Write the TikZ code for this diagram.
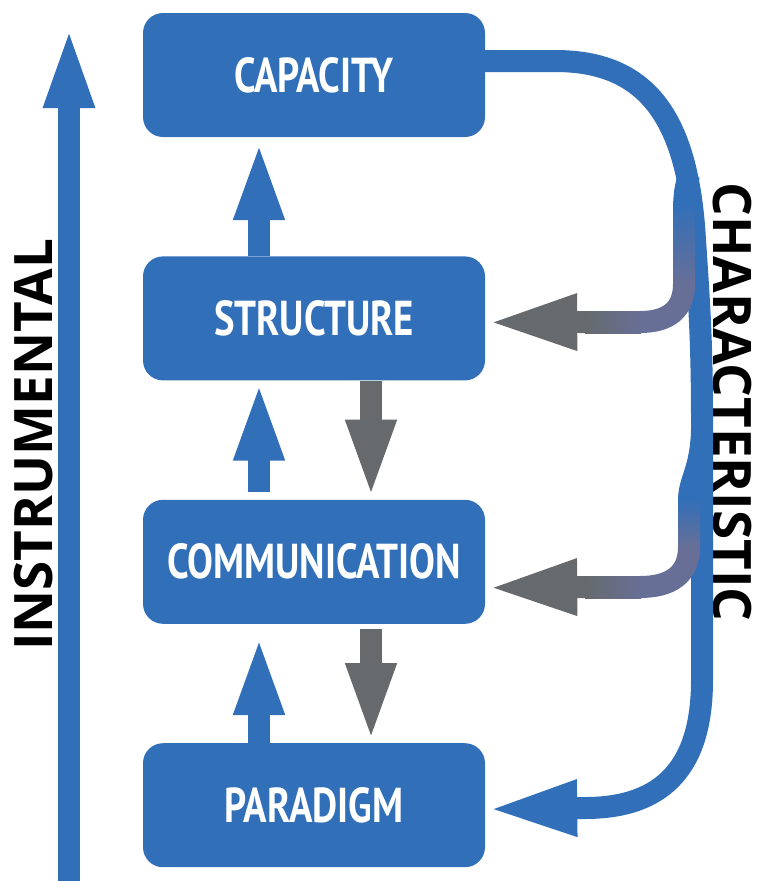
\documentclass[tikz,border=0pt]{standalone}
\usepackage{fontspec}
\newfontfamily\boxfont{PT Sans}[FakeStretch=0.79]
\newfontfamily\sidefont{Open Sans}
\usetikzlibrary{arrows.meta,positioning}
\definecolor{boxColor}{RGB}{50,111,185}
\definecolor{backColor}{RGB}{102,106,109}
\definecolor{mixColor}{RGB}{104,111,150}
\tikzset{stage/.style={fill=boxColor, draw=none, text=white, align=center, minimum width=342pt, minimum height=124pt, rounded corners=20pt, font=\boxfont\bfseries\fontsize{49}{51}\selectfont}}
\tikzset{sideLabel/.style={text=black, inner sep=0pt, font=\sidefont\bfseries\fontsize{53}{55}\selectfont}}
\tikzstyle{arrow} = [-{Triangle[length=80pt,width=45pt]}, line width=22pt, draw=boxColor]
\tikzstyle{downArrow} = [arrow, draw=backColor]
\tikzstyle{feedback} = [-{Triangle[length=92pt,width=50pt]}, line width=22pt]
\tikzstyle{band} = [line width=22pt]

\begin{document}
\begin{tikzpicture}[x=1pt, y=-1pt, node distance=119pt]
	\useasboundingbox (0,0) rectangle (756,881);
	% Nodes
		\node (capacity) [stage] at (314,75) {CAPACITY};
		\node (structure) [stage, below=of capacity] {STRUCTURE};
		\node (communication) [stage, below=of structure] {COMMUNICATION};
		\node (paradigm) [stage, below=of communication] {PARADIGM};
		\node (instrumental) [sideLabel, rotate=90] at (34,445) {INSTRUMENTAL};
		\node (characteristic) [sideLabel, rotate=-90] at (732,402) {CHARACTERISTIC};
		\coordinate (instrBase) at (69,881);
		\coordinate (instrTip) at (69,25);

		% Connectors
		\draw [arrow, -{Triangle[length=83pt,width=45pt]}] (instrBase) -- (instrTip);
		\draw [arrow, shorten >=3pt] ([xshift=-55pt]structure.north) -- ([xshift=-55pt]capacity.south);
		\draw [arrow, shorten <=8pt] ([xshift=-55pt]communication.north) -- ([xshift=-55pt]structure.south);
		\draw [arrow, shorten >=11pt] ([xshift=-55pt]paradigm.north) -- ([xshift=-55pt]communication.south);
		\draw [downArrow] ([xshift=57pt]structure.south) -- ([xshift=57pt]communication.north);
		\draw [downArrow, shorten <=5pt] ([xshift=57pt]communication.south) -- ([xshift=57pt]paradigm.north);

		% Feedback loop on the right
		\draw [feedback, draw=boxColor] ([yshift=14pt]capacity.east) -- (555,61) .. controls (645,61) and (688,115) .. (695,240) .. controls (699,300) and (702,340) .. (702,420) -- (702,680) .. controls (702,765) and (665,808) .. (585,808) -- ([yshift=-4pt]paradigm.east);

		% branch to structure, blue turning grey
		\draw [band, draw=boxColor] (689,175) .. controls (685,190) .. (684,205);
		\shade [top color=boxColor, bottom color=mixColor] (673,204) rectangle (695,285);
		\draw [band, draw=mixColor] (684,284) .. controls (684,310) and (668,322) .. (640,322);
		\shade [left color=backColor, right color=mixColor] (585,311) rectangle (641,333);
		\draw [feedback, draw=backColor] (590,322) -- ([yshift=-4pt]structure.east);

		% branch to communication, blue turning grey
		\draw [band, draw=boxColor] (702,430) .. controls (701,470) and (689,480) .. (689,500);
		\shade [top color=boxColor, bottom color=mixColor] (678,499) rectangle (700,548);
		\draw [band, draw=mixColor] (689,547) .. controls (689,575) and (670,587) .. (640,587);
		\shade [left color=backColor, right color=mixColor] (585,576) rectangle (641,598);
		\draw [feedback, draw=backColor] (590,587) -- ([yshift=-26pt]communication.east);
\end{tikzpicture}
\end{document}
